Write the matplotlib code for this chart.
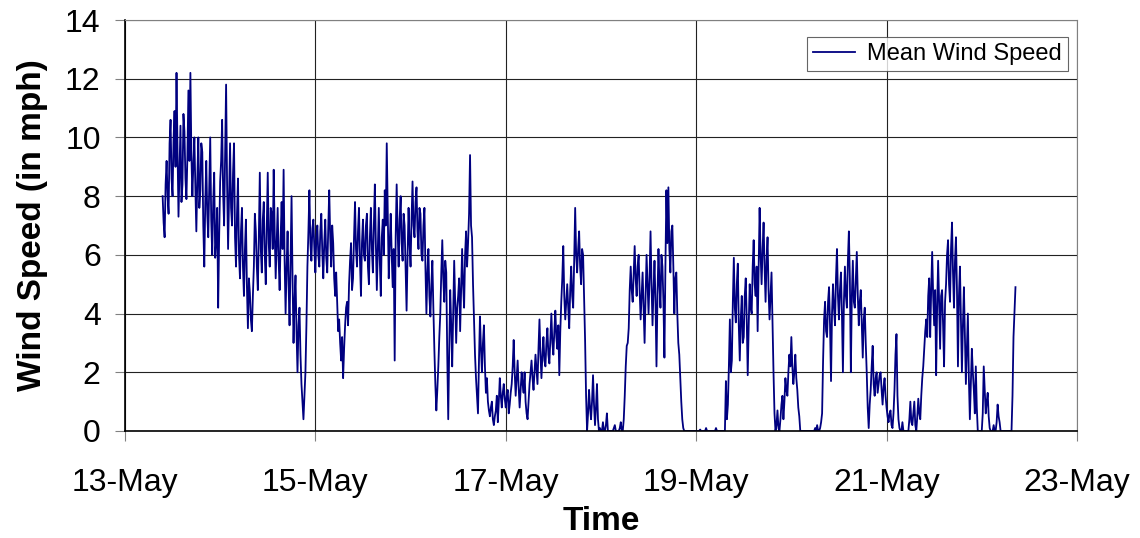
import pandas as pd
import matplotlib
matplotlib.use("Agg")
import matplotlib.pyplot as plt
import matplotlib.dates as mdates

plt.rcParams["font.family"] = ["Liberation Sans", "DejaVu Sans"]

# ---------------------------------------------------------------
# Mean wind speed (mph) at 15-minute steps,
# first reading 13-May 09:30
# ---------------------------------------------------------------
start = "2000-05-13 09:30"

may13 = [8.0, 7.1, 6.6, 8.4, 9.2, 8.0, 7.4, 9.8, 10.6, 8.6, 8.0, 9.9, 10.9, 9.0, 12.2, 9.6,
         7.3, 8.8, 10.4, 7.8, 8.4, 10.8, 10.2, 8.6, 7.9, 9.4, 11.6, 9.2, 12.2, 9.4, 8.0, 9.1,
         10.0, 8.3, 6.8, 8.6, 10.0, 7.6, 8.2, 9.8, 9.5, 7.0, 5.6, 7.8, 9.2, 7.4, 6.6, 8.4,
         10.0, 7.2, 6.0, 7.8, 8.8, 5.9, 6.5, 7.6, 4.2, 6.6]
may14 = [8.5, 9.2, 10.6, 8.1, 7.0, 9.4, 11.8, 8.4, 6.2, 8.0, 9.8, 7.6, 7.0, 8.8, 9.8, 6.6,
         5.6, 7.4, 8.6, 6.0, 5.2, 6.8, 7.6, 5.6, 4.6, 6.2, 7.2, 4.9, 3.5, 5.2, 4.7, 3.8,
         3.4, 4.6, 5.6, 7.4, 6.8, 5.6, 4.8, 6.6, 8.8, 6.2, 5.4, 7.2, 7.8, 6.0, 5.0, 7.0,
         8.8, 6.4, 5.6, 7.6, 7.4, 6.2, 8.9, 6.8, 5.2, 6.4, 7.6, 5.8, 4.8, 6.6, 7.8, 6.2,
         8.9, 5.8, 4.0, 5.6, 6.8, 5.0, 3.6, 5.8, 8.0, 5.2, 3.0, 4.4, 5.3, 3.4, 2.0, 3.6,
         4.2, 2.6, 1.6, 1.0, 0.4, 1.2, 2.0, 3.6, 5.6, 6.8, 8.2, 6.4, 5.8, 6.9, 7.2, 6.2]
may15 = [5.4, 6.6, 7.0, 6.0, 5.6, 6.8, 7.4, 6.1, 5.2, 6.4, 7.2, 5.9, 5.4, 6.9, 8.2, 6.6,
         5.6, 7.0, 6.4, 5.2, 4.6, 5.4, 4.4, 3.4, 3.8, 3.0, 2.4, 3.2, 1.8, 2.8, 3.6, 4.2,
         4.4, 3.6, 5.0, 5.8, 6.4, 4.8, 5.2, 6.6, 7.8, 6.2, 5.6, 6.8, 7.6, 5.8, 4.6, 6.4,
         7.2, 6.0, 5.8, 7.0, 7.4, 5.6, 5.0, 6.6, 7.6, 6.2, 5.4, 7.0, 8.4, 6.4, 4.8, 6.2,
         7.6, 5.8, 4.6, 6.6, 7.2, 6.0, 8.2, 7.0, 9.8, 7.4, 5.2, 6.4, 7.4, 6.0, 4.9, 6.2,
         2.4, 6.6, 8.4, 6.8, 5.6, 7.2, 8.0, 6.4, 5.8, 7.4, 7.0, 5.6, 4.1, 6.0, 7.6, 6.4]
may16 = [5.6, 7.2, 8.5, 7.0, 6.6, 7.8, 8.3, 6.8, 6.2, 7.6, 7.4, 6.0, 5.8, 7.0, 7.6, 5.6,
         4.0, 5.4, 6.2, 4.6, 3.9, 5.0, 5.8, 4.2, 2.8, 1.6, 0.7, 1.4, 2.2, 3.2, 4.0, 5.4,
         6.5, 5.2, 4.4, 5.8, 5.4, 2.6, 0.4, 2.8, 4.8, 3.6, 2.2, 4.0, 5.8, 4.4, 3.0, 4.2,
         4.6, 5.2, 3.4, 4.8, 6.2, 5.0, 4.2, 6.0, 6.8, 5.6, 6.4, 7.4, 9.4, 7.0, 6.6, 5.0,
         3.8, 2.6, 1.8, 1.2, 0.6, 2.4, 3.9, 2.8, 2.0, 3.0, 3.6, 2.2, 1.3, 1.8, 1.0, 0.7,
         0.5, 0.8, 1.0, 0.4, 0.2, 0.5, 0.7, 1.2, 0.3, 1.0, 1.8, 1.2, 0.8, 1.3, 1.6, 1.1]
may17 = [0.8, 1.2, 1.4, 0.6, 0.9, 1.3, 1.6, 2.2, 3.1, 2.0, 1.2, 1.8, 2.4, 1.5, 0.8, 1.4,
         2.0, 1.6, 1.3, 2.0, 1.0, 0.6, 0.4, 1.0, 1.6, 2.0, 2.4, 1.8, 1.4, 2.0, 2.6, 2.1,
         1.6, 2.8, 3.8, 2.6, 1.8, 2.6, 3.2, 2.4, 2.2, 3.0, 3.5, 2.6, 2.3, 3.2, 4.0, 3.0,
         2.6, 3.4, 4.1, 3.2, 2.8, 3.6, 1.9, 3.4, 4.4, 5.2, 6.3, 4.6, 3.8, 4.4, 5.0, 4.2,
         3.5, 4.8, 5.6, 4.6, 4.2, 5.8, 7.6, 6.0, 5.4, 6.2, 6.8, 5.6, 5.0, 6.2, 6.0, 4.6,
         3.1, 1.2, 0.0, 0.6, 1.4, 0.8, 0.4, 1.0, 1.9, 0.9, 0.2, 0.8, 1.6, 0.4, 0.0, 0.1]
may18 = [0.0, 0.0, 0.3, 0.0, 0.0, 0.2, 0.6, 0.0, 0.0, 0.0, 0.0, 0.0, 0.0, 0.1, 0.2, 0.0,
         0.0, 0.0, 0.0, 0.1, 0.3, 0.0, 0.0, 0.4, 1.2, 2.2, 2.9, 3.0, 3.5, 4.8, 5.6, 4.8,
         4.4, 5.4, 6.3, 5.2, 4.6, 5.6, 6.0, 4.8, 3.8, 4.6, 5.4, 4.2, 3.0, 4.6, 6.0, 5.0,
         4.0, 5.2, 6.8, 5.0, 3.6, 4.8, 5.8, 4.4, 2.2, 4.6, 6.2, 5.0, 4.2, 6.0, 5.6, 4.4,
         2.5, 5.6, 8.2, 6.4, 8.3, 6.2, 5.4, 6.8, 7.0, 5.6, 4.0, 5.2, 5.4, 4.0, 3.0, 2.6,
         1.8, 1.0, 0.4, 0.1, 0.0, 0.0, 0.0, 0.0, 0.0, 0.0, 0.0, 0.0, 0.0, 0.0, 0.0, 0.0]
may19 = [0.0, 0.0, 0.0, 0.0, 0.05, 0.0, 0.0, 0.0, 0.0, 0.0, 0.1, 0.0, 0.0, 0.0, 0.0, 0.0,
         0.0, 0.0, 0.0, 0.0, 0.1, 0.0, 0.0, 0.0, 0.0, 0.0, 0.0, 0.0, 0.0, 0.0, 1.7, 0.4,
         0.9, 2.2, 3.8, 2.0, 2.4, 4.4, 5.9, 4.2, 3.7, 5.0, 5.7, 3.6, 2.4, 3.8, 4.6, 3.0,
         3.2, 4.6, 5.2, 3.8, 1.9, 3.6, 5.0, 4.2, 4.0, 5.6, 6.5, 5.0, 4.6, 5.6, 3.4, 5.4,
         7.6, 6.0, 5.0, 6.2, 7.1, 5.6, 4.4, 5.8, 6.6, 4.8, 3.8, 4.6, 5.4, 3.6, 2.0, 0.6,
         0.0, 0.2, 0.7, 0.1, 0.0, 0.4, 0.9, 1.2, 0.4, 1.0, 1.8, 1.4, 1.2, 2.0, 2.6, 2.2]
may20 = [3.2, 2.2, 1.6, 2.0, 2.6, 1.8, 1.4, 0.8, 0.5, 0.0, 0.0, 0.0, 0.0, 0.0, 0.0, 0.0,
         0.0, 0.0, 0.0, 0.0, 0.0, 0.0, 0.0, 0.0, 0.1, 0.0, 0.2, 0.0, 0.0, 0.1, 0.3, 0.6,
         2.4, 3.8, 4.4, 3.4, 3.2, 4.4, 4.9, 3.6, 1.7, 4.0, 5.0, 4.2, 3.6, 5.2, 6.2, 4.6,
         3.8, 4.8, 5.4, 4.0, 2.0, 4.4, 5.6, 4.6, 4.2, 5.8, 6.8, 5.2, 2.0, 4.6, 5.8, 4.4,
         4.2, 5.2, 6.1, 4.6, 3.6, 4.4, 4.8, 3.6, 2.5, 3.8, 4.2, 3.0, 2.0, 0.8, 0.1, 0.9,
         1.4, 2.2, 2.9, 1.6, 1.2, 1.8, 2.0, 1.3, 1.6, 1.9, 2.0, 1.4, 0.9, 1.5, 1.8, 1.2]
may21 = [0.8, 0.5, 0.3, 0.6, 0.7, 0.2, 0.1, 0.6, 1.4, 2.6, 3.3, 1.2, 0.4, 0.1, 0.0, 0.0,
         0.3, 0.0, 0.0, 0.0, 0.0, 0.0, 0.0, 0.4, 1.0, 0.3, 0.2, 0.6, 1.0, 0.2, 0.0, 0.5,
         1.1, 0.6, 0.4, 1.2, 1.8, 2.2, 2.8, 3.4, 3.8, 3.2, 4.6, 5.2, 3.2, 4.8, 6.1, 4.6,
         3.6, 4.8, 1.9, 4.2, 5.8, 4.4, 2.8, 4.6, 4.8, 3.6, 2.2, 4.4, 5.0, 6.0, 6.5, 5.0,
         4.4, 6.2, 7.1, 5.4, 4.2, 5.8, 6.6, 4.8, 2.2, 4.6, 5.6, 3.8, 2.0, 3.6, 4.9, 3.2,
         1.6, 2.8, 4.0, 1.8, 0.4, 1.6, 2.8, 2.0, 1.4, 0.6, 2.2, 0.8, 0.0, 0.0, 0.0, 0.0]
may22 = [0.0, 0.6, 2.2, 1.4, 0.6, 1.0, 1.3, 0.5, 0.1, 0.0, 0.0, 0.0, 0.2, 0.0, 0.0, 0.3,
         0.9, 0.5, 0.3, 0.0, 0.0, 0.0, 0.0, 0.0, 0.0, 0.0, 0.0, 0.0, 0.0, 0.0, 0.0, 1.2,
         3.2, 4.1, 4.9]

speed = may13 + may14 + may15 + may16 + may17 + may18 + may19 + may20 + may21 + may22
times = pd.date_range(start, periods=len(speed), freq="15min")

# ---------------------------------------------------------------
# Plot
# ---------------------------------------------------------------
fig = plt.figure(figsize=(11.4, 5.38), dpi=100)
ax = fig.add_axes([0.1096, 0.1989, 0.8351, 0.7639])

ax.plot(times, speed, color="#000080", lw=1.3, label="Mean Wind Speed")

ax.set_xlim(pd.Timestamp("2000-05-13"), pd.Timestamp("2000-05-23"))
ax.set_ylim(0, 14)
ax.set_yticks(range(0, 15, 2))
ax.xaxis.set_major_locator(mdates.DayLocator(interval=2))
ax.xaxis.set_major_formatter(mdates.DateFormatter("%d-%b"))

ax.grid(True, color="#222222", lw=0.8)
ax.set_axisbelow(True)
for side in ["left", "bottom"]:
    ax.spines[side].set_color("black")
    ax.spines[side].set_linewidth(1.2)
for side in ["top", "right"]:
    ax.spines[side].set_color("#808080")
    ax.spines[side].set_linewidth(0.8)

ax.tick_params(axis="both", labelsize=23, length=7.5, width=0.8, color="#808080")
ax.tick_params(axis="x", pad=19)
ax.tick_params(axis="y", pad=10)

ax.set_xlabel("Time", fontsize=24, fontweight="bold", labelpad=6)
ax.set_ylabel("Wind Speed (in mph)", fontsize=24, fontweight="bold", labelpad=12)

leg = ax.legend(loc="upper right", bbox_to_anchor=(0.9905, 0.9586), fontsize=17,
                frameon=True, fancybox=False, handlelength=1.8, handletextpad=0.5,
                borderpad=0.25, borderaxespad=0)
leg.get_frame().set_edgecolor("#404040")
leg.get_frame().set_linewidth(0.8)

plt.savefig("out.png", dpi=100)
plt.close()
